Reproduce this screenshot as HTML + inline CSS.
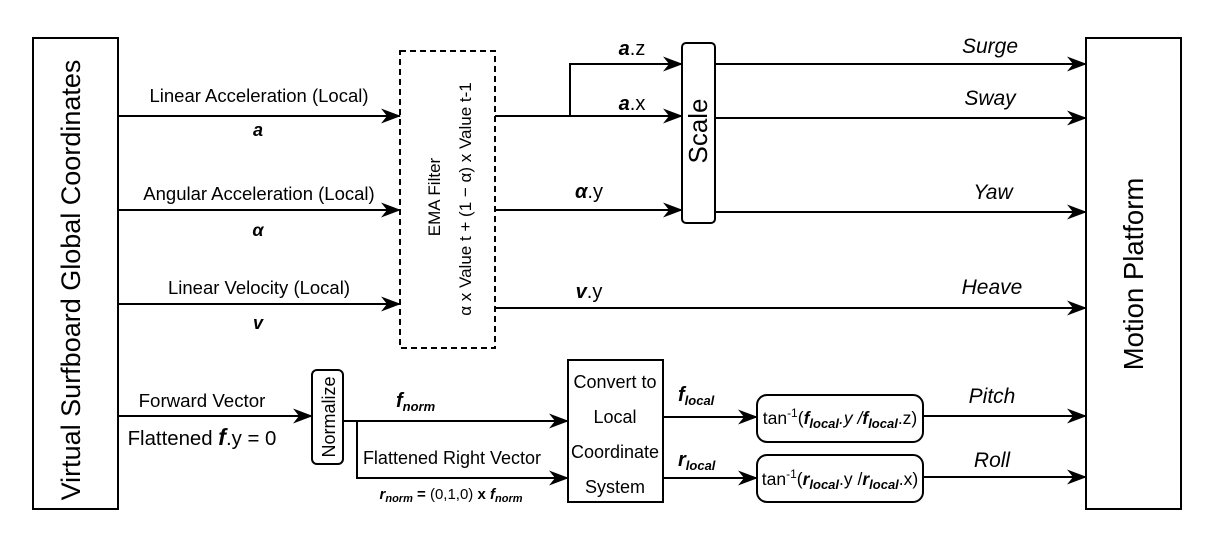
<!DOCTYPE html>
<html><head><meta charset="utf-8"><style>
html,body{margin:0;padding:0;background:#fff;}
svg{display:block;font-family:"Liberation Sans",Arial,sans-serif;}
</style></head><body>
<svg width="1208" height="543" viewBox="0 0 1208 543" xmlns="http://www.w3.org/2000/svg">
<defs>
<marker id="ar" markerWidth="20" markerHeight="15" refX="19" refY="7.5" orient="auto" markerUnits="userSpaceOnUse">
<path d="M0,0 L20,7.5 L0,15 L6,7.5 Z" fill="#000"/>
</marker>
</defs>
<g fill="none" stroke="#000" stroke-width="2">
<rect x="33" y="38" width="85" height="471" fill="#fff"/>
<rect x="1086" y="38" width="95" height="471" fill="#fff"/>
<rect x="400" y="51" width="95" height="297" stroke-dasharray="6,4"/>
<rect x="682" y="43" width="33" height="180" rx="4"/>
<rect x="312" y="370" width="31" height="94" rx="5"/>
<rect x="568" y="360" width="95" height="142"/>
<rect x="757" y="395" width="166" height="47" rx="10"/>
<rect x="757" y="455" width="166" height="47" rx="10"/>
</g>
<g fill="none" stroke="#000" stroke-width="2" marker-end="url(#ar)">
<line x1="118" y1="116" x2="400" y2="116"/>
<line x1="118" y1="210" x2="400" y2="210"/>
<line x1="118" y1="304" x2="400" y2="304"/>
<line x1="118" y1="416" x2="312" y2="416"/>
<line x1="495" y1="116" x2="682" y2="116"/>
<polyline points="570,116 570,64 682,64"/>
<line x1="495" y1="210" x2="682" y2="210"/>
<line x1="495" y1="308" x2="1086" y2="308"/>
<line x1="715" y1="64" x2="1086" y2="64"/>
<line x1="715" y1="118" x2="1086" y2="118"/>
<line x1="715" y1="212" x2="1086" y2="212"/>
<line x1="343" y1="421" x2="568" y2="421"/>
<polyline points="357,421 357,478 568,478"/>
<line x1="663" y1="417" x2="757" y2="417"/>
<line x1="663" y1="478" x2="757" y2="478"/>
<line x1="923" y1="416" x2="1086" y2="416"/>
<line x1="923" y1="477" x2="1086" y2="477"/>
</g>
<g fill="#000" font-size="16">
<text x="259" y="102" text-anchor="middle" font-size="18.5">Linear Acceleration (Local)</text>
<text x="258" y="136" text-anchor="middle" font-weight="bold" font-style="italic" font-size="18">a</text>
<text x="259" y="200" text-anchor="middle" font-size="18.5">Angular Acceleration (Local)</text>
<text x="258" y="236" text-anchor="middle" font-weight="bold" font-style="italic" font-size="18">α</text>
<text x="259" y="294" text-anchor="middle" font-size="18.5">Linear Velocity (Local)</text>
<text x="258" y="329" text-anchor="middle" font-weight="bold" font-style="italic" font-size="18">v</text>
<text x="202" y="407" text-anchor="middle" font-size="18.7">Forward Vector</text>
<text x="202" y="445" text-anchor="middle" font-size="20.4">Flattened <tspan font-weight="bold" font-style="italic" font-size="23">f</tspan>.y = 0</text>
<text x="632" y="55" text-anchor="middle" font-size="20"><tspan font-weight="bold" font-style="italic">a</tspan>.z</text>
<text x="632" y="110" text-anchor="middle" font-size="20"><tspan font-weight="bold" font-style="italic">a</tspan>.x</text>
<text x="589" y="198" text-anchor="middle" font-size="20"><tspan font-weight="bold" font-style="italic">α</tspan>.y</text>
<text x="589" y="298" text-anchor="middle" font-size="20"><tspan font-weight="bold" font-style="italic">v</tspan>.y</text>
<g font-style="italic" font-size="21" text-anchor="middle">
<text x="990" y="53">Surge</text>
<text x="990" y="105">Sway</text>
<text x="993" y="199">Yaw</text>
<text x="992" y="294">Heave</text>
<text x="992" y="403">Pitch</text>
<text x="992" y="467">Roll</text>
</g>
<text transform="translate(707,131) rotate(-90)" text-anchor="middle" font-size="26">Scale</text>
<text transform="translate(335,417) rotate(-90)" text-anchor="middle" font-size="18">Normalize</text>
<text transform="translate(80,280) rotate(-90)" text-anchor="middle" font-size="27">Virtual Surfboard Global Coordinates</text>
<text transform="translate(1143,274) rotate(-90)" text-anchor="middle" font-size="27.5">Motion Platform</text>
<text transform="translate(440,197) rotate(-90)" text-anchor="middle" font-size="17">EMA Filter</text>
<text transform="translate(471,199) rotate(-90)" text-anchor="middle" font-size="17">α x Value t + (1 − α) x Value t-1</text>
<text x="615" y="388" text-anchor="middle" font-size="18">Convert to</text>
<text x="615" y="423" text-anchor="middle" font-size="18">Local</text>
<text x="615" y="458" text-anchor="middle" font-size="18">Coordinate</text>
<text x="615" y="493" text-anchor="middle" font-size="18">System</text>
<text x="396" y="407" font-size="20" font-weight="bold" font-style="italic">f<tspan font-size="13" dy="4">norm</tspan></text>
<text x="452" y="464" text-anchor="middle" font-size="18">Flattened Right Vector</text>
<text x="451" y="499" text-anchor="middle" font-size="15"><tspan font-weight="bold" font-style="italic">r</tspan><tspan font-weight="bold" font-style="italic" font-size="11" dy="3">norm</tspan><tspan dy="-3" font-weight="bold"> = </tspan>(0,1,0) <tspan font-weight="bold">x </tspan><tspan font-weight="bold" font-style="italic">f</tspan><tspan font-weight="bold" font-style="italic" font-size="11" dy="3">norm</tspan></text>
<text x="678" y="401" font-size="20" font-weight="bold" font-style="italic">f<tspan font-size="13" dy="4">local</tspan></text>
<text x="678" y="466" font-size="20" font-weight="bold" font-style="italic">r<tspan font-size="13" dy="4">local</tspan></text>
<text x="840" y="424" text-anchor="middle" font-size="17.5">tan<tspan font-size="12" dy="-7">-1</tspan><tspan dy="7">(</tspan><tspan font-weight="bold" font-style="italic">f</tspan><tspan font-weight="bold" font-style="italic" font-size="13" dy="4">local</tspan><tspan dy="-4" font-style="italic">.y /</tspan><tspan font-weight="bold" font-style="italic">f</tspan><tspan font-weight="bold" font-style="italic" font-size="13" dy="4">local</tspan><tspan dy="-4">.z)</tspan></text>
<text x="840" y="485" text-anchor="middle" font-size="17.5">tan<tspan font-size="12" dy="-7">-1</tspan><tspan dy="7">(</tspan><tspan font-weight="bold" font-style="italic">r</tspan><tspan font-weight="bold" font-style="italic" font-size="13" dy="4">local</tspan><tspan dy="-4">.y /</tspan><tspan font-weight="bold" font-style="italic">r</tspan><tspan font-weight="bold" font-style="italic" font-size="13" dy="4">local</tspan><tspan dy="-4">.x)</tspan></text>
</g>
</svg>
</body></html>
